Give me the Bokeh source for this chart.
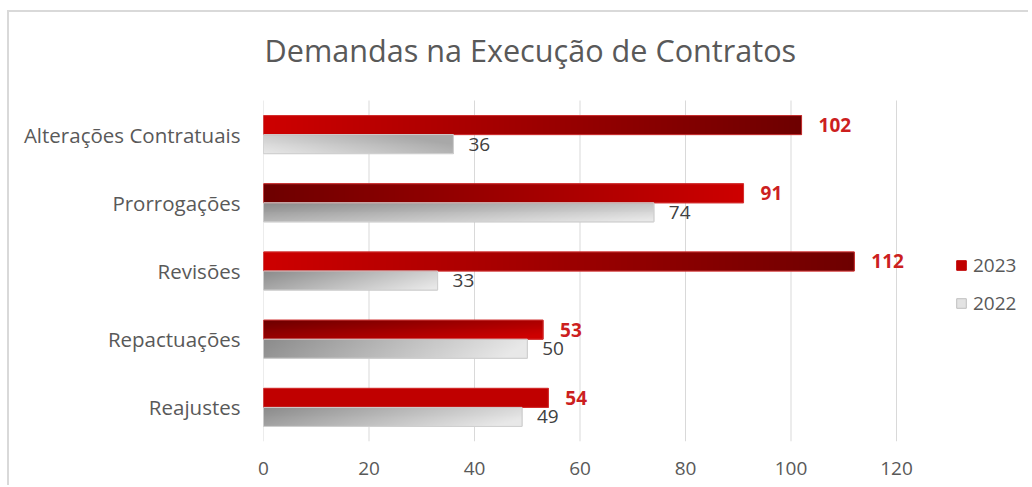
import numpy as np
from bokeh.plotting import figure
from bokeh.models import (ColumnDataSource, LabelSet, Label, FixedTicker, Range1d,
                          Legend, LegendItem)
from bokeh.core.properties import value
from bokeh.embed import file_html
from bokeh.resources import INLINE

# ---------------- data ----------------
title_text = "Demandas na Execução de Contratos"
categories = ["Reajustes", "Repactuações", "Revisões", "Prorrogações", "Alterações Contratuais"]
values_2023 = [54, 53, 112, 91, 102]
values_2022 = [49, 50, 33, 74, 36]
series_names = ["2023", "2022"]
x_ticks = [0, 20, 40, 60, 80, 100, 120]

# ---------------- styles ----------------
FONT = "Open Sans"
TEXT_GREY = "#595959"
RED_SOLID = (192, 0, 0)
RED_BRIGHT = (206, 0, 0)
RED_DARK = (110, 0, 0)
GREY_LIGHT = (232, 232, 232)
GREY_MID = (168, 168, 168)
GREY_DARK = (140, 140, 140)
BAR_H = 0.279
PX_PER_CAT = 68.2          # vertical pixels per category band
FRAME_H = 429              # frame height incl. the title area above the bars

# gradient specs per category (bottom to top): (start, end, wx, wy, c); t = wx*x + wy*y_from_top + c
red_styles = [
    (RED_SOLID, RED_SOLID, 1.0, 0.0, 0.0),
    (RED_DARK, RED_BRIGHT, 0.65, 0.45, 0.0),
    (RED_BRIGHT, RED_DARK, 1.0, 0.0, 0.0),
    (RED_DARK, RED_BRIGHT, 1.0, 0.0, 0.0),
    (RED_BRIGHT, RED_DARK, 1.0, 0.0, 0.0),
]
grey_styles = [
    (GREY_DARK, GREY_LIGHT, 0.85, 0.25, 0.0),
    (GREY_DARK, GREY_LIGHT, 1.0, 0.1, 0.0),
    (GREY_DARK, GREY_LIGHT, 0.75, 0.3, 0.0),
    (GREY_DARK, GREY_LIGHT, 0.6, 0.45, 0.0),
    (GREY_LIGHT, GREY_MID, 0.8, -0.4, 0.4),
]


def gradient(spec, W=500, H=20):
    c1, c2, wx, wy, c = spec
    xn = np.linspace(0, 1, W)[None, :]
    yn = np.linspace(0, 1, H)[:, None]          # 0 = top
    t = np.clip(wx * xn + wy * yn + c, 0, 1)
    img = np.empty((H, W), dtype=np.uint32)
    view = img.view(dtype=np.uint8).reshape((H, W, 4))
    for k in range(3):
        view[:, :, k] = (c1[k] + (c2[k] - c1[k]) * t).astype(np.uint8)
    view[:, :, 3] = 255
    return np.ascontiguousarray(img[::-1])       # row 0 = bottom in bokeh


pos = list(range(len(categories)))
y_lo, y_hi = -0.5, len(categories) - 0.5

src23 = ColumnDataSource(dict(
    image=[gradient(s) for s in red_styles],
    x=[0] * len(pos), y=pos, dw=values_2023, dh=[BAR_H] * len(pos),
    top=[p_ + BAR_H for p_ in pos], bottom=pos,
    ymid=[p_ + BAR_H / 2 for p_ in pos],
    v=values_2023, label=[str(v) for v in values_2023],
))
src22 = ColumnDataSource(dict(
    image=[gradient(s) for s in grey_styles],
    x=[0] * len(pos), y=[p_ - BAR_H for p_ in pos], dw=values_2022, dh=[BAR_H] * len(pos),
    top=pos, bottom=[p_ - BAR_H for p_ in pos],
    ymid=[p_ - BAR_H / 2 for p_ in pos],
    v=values_2022, label=[str(v) for v in values_2022],
))
grid_src = ColumnDataSource(dict(t=x_ticks, y0=[y_lo] * len(x_ticks), y1=[y_hi] * len(x_ticks)))

W, H = 1021, 475
p = figure(width=W, height=H, output_backend="svg", toolbar_location=None,
           x_range=Range1d(0, 145.4),
           y_range=Range1d(y_lo, y_lo + FRAME_H / PX_PER_CAT),
           min_border_left=254, min_border_right=0, min_border_top=0,
           min_border_bottom=46, title=None)
p.styles = {"margin-left": "7px", "margin-top": "10px",
            "border-left": "2px solid #D9D9D9", "border-top": "2px solid #D9D9D9"}
p.outline_line_color = None
p.background_fill_color = "white"
p.border_fill_color = "white"

# vertical gridlines over the category area only
p.segment(x0="t", y0="y0", x1="t", y1="y1", source=grid_src,
          line_color="#D9D9D9", line_width=1, level="underlay")

# solid base bars (also used as legend swatches) + gradient images
r23 = p.quad(left="x", right="v", bottom="bottom", top="top", source=src23,
             fill_color="#C00000", line_color="#C00000")
r22 = p.quad(left="x", right="v", bottom="bottom", top="top", source=src22,
             fill_color="#E3E3E3", line_color="#BFBFBF")
p.image_rgba(image="image", x="x", y="y", dw="dw", dh="dh", source=src23)
p.image_rgba(image="image", x="x", y="y", dw="dw", dh="dh", source=src22)
p.quad(left="x", right="v", bottom="bottom", top="top", source=src23,
       fill_color=None, line_color="#E05050", line_alpha=0.6, line_width=1)
p.quad(left="x", right="v", bottom="bottom", top="top", source=src22,
       fill_color=None, line_color="#D0D0D0", line_width=1)

# value labels
p.add_layout(LabelSet(x="v", y="ymid", text="label", source=src23, x_offset=17,
                      text_baseline="middle", text_font=value(FONT), text_font_size="19px",
                      text_font_style="bold", text_color="#CC1F1F"))
p.add_layout(LabelSet(x="v", y="ymid", text="label", source=src22, x_offset=15,
                      text_baseline="middle", text_font=value(FONT), text_font_size="19px",
                      text_color="#404040"))

# chart title (inside the frame, above the bars)
p.add_layout(Label(x=1, y=392, x_units="screen", y_units="screen", text=title_text,
                   text_align="left", text_baseline="alphabetic", text_font=FONT,
                   text_font_size="30.6px", text_color=TEXT_GREY))

# axes
ticker = FixedTicker(ticks=x_ticks)
p.xaxis.ticker = ticker
p.xgrid.visible = False
p.ygrid.visible = False
p.yaxis.ticker = FixedTicker(ticks=pos)
p.yaxis.major_label_overrides = {i: c for i, c in zip(pos, categories)}
for ax in (p.xaxis, p.yaxis):
    ax.axis_line_color = None
    ax.major_tick_line_color = None
    ax.minor_tick_line_color = None
    ax.major_label_text_font = FONT
    ax.major_label_text_color = TEXT_GREY
p.yaxis.major_label_text_font_size = "20.5px"
p.xaxis.major_label_text_font_size = "19px"
p.yaxis.major_label_standoff = 17
p.xaxis.major_label_standoff = 14

# legend
legend = Legend(items=[LegendItem(label=series_names[0], renderers=[r23]),
                       LegendItem(label=series_names[1], renderers=[r22])],
                location=(692, 125), orientation="vertical",
                glyph_width=12, glyph_height=12, label_standoff=6, spacing=12,
                padding=0, margin=0, border_line_color=None, background_fill_alpha=0,
                label_text_font=FONT, label_text_font_size="19px", label_text_color=TEXT_GREY)
p.add_layout(legend, "center")

open("out.html", "w").write(file_html(p, INLINE))
